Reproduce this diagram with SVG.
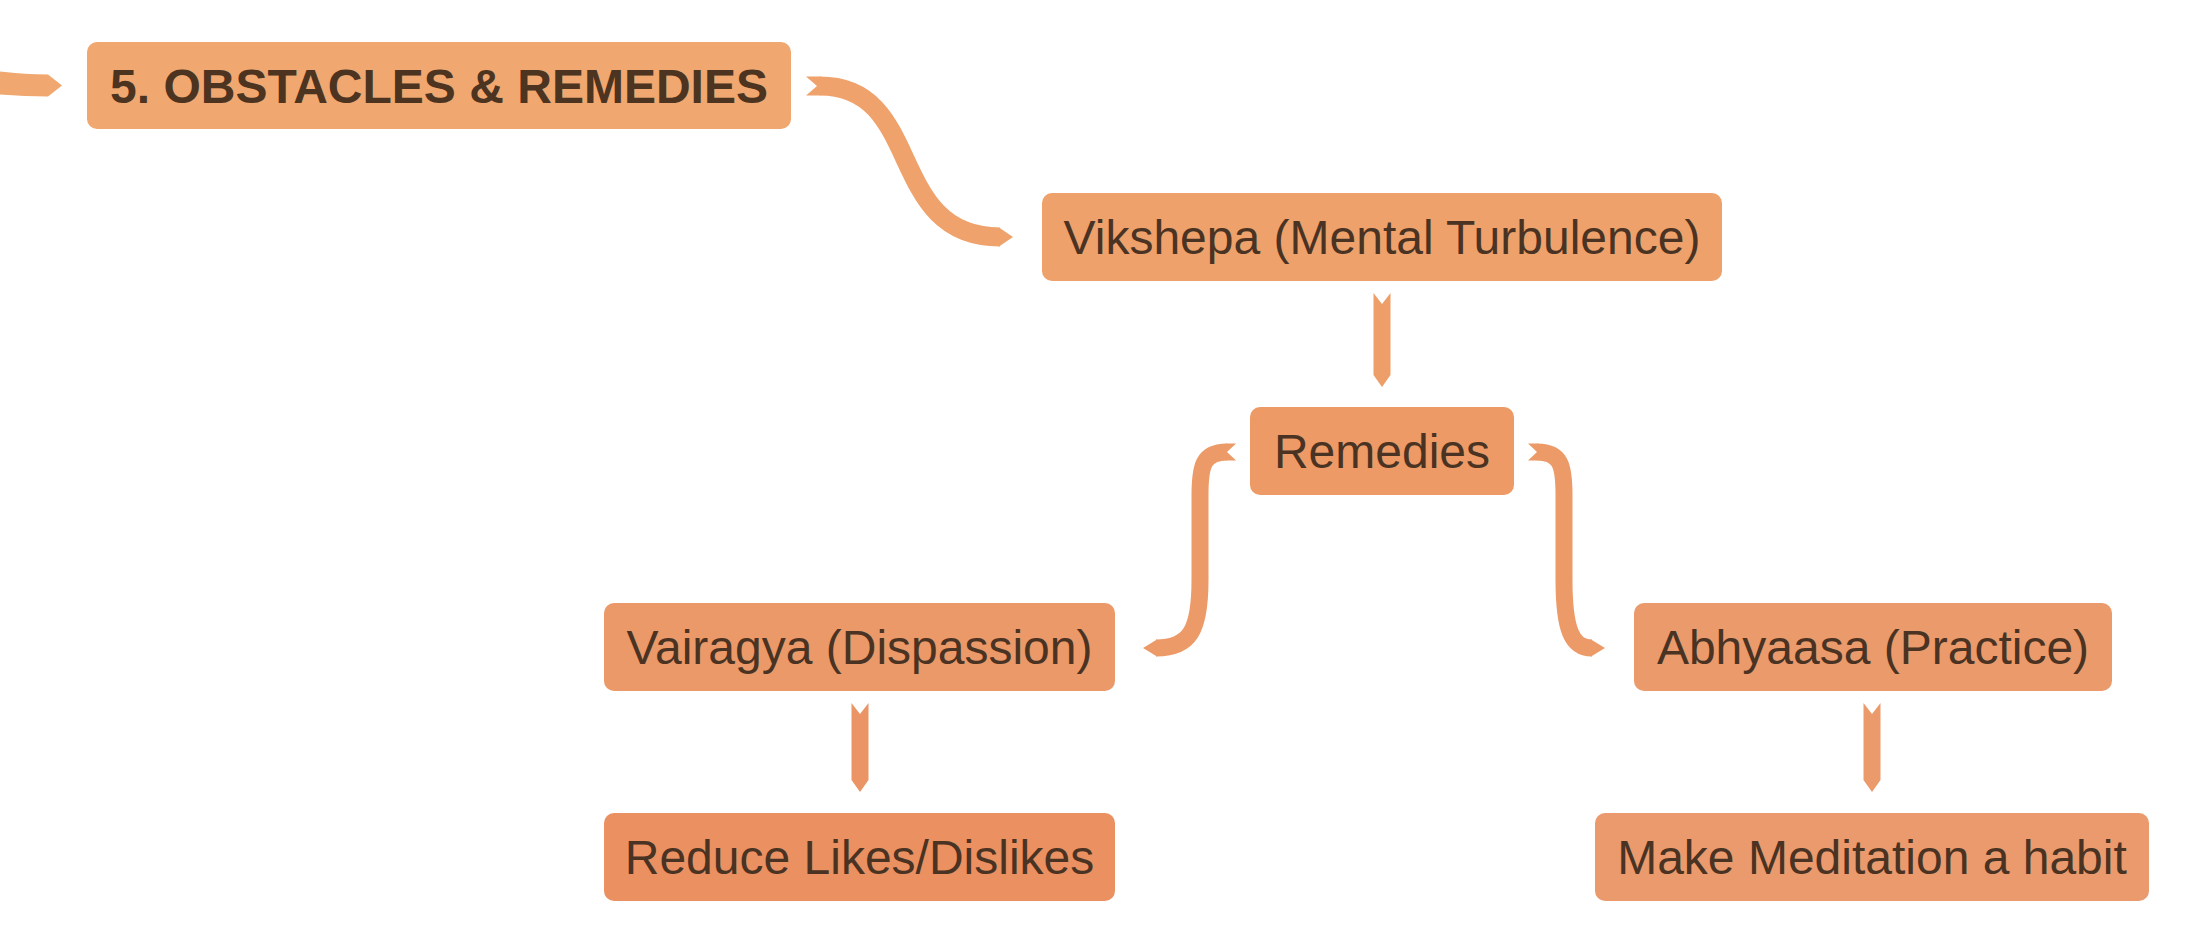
<svg xmlns="http://www.w3.org/2000/svg" width="2185" height="942" viewBox="0 0 2185 942">
  <style>
    .box { stroke: none; }
    .lbl { font-family: "Liberation Sans", Arial, sans-serif; font-size: 48px; fill: #4a3323; text-anchor: middle; }
    .title { font-weight: bold; fill: #4c3421; }
    .band { fill: none; stroke-linecap: butt; stroke-linejoin: round; }
  </style>
  <rect width="2185" height="942" fill="#ffffff"/>

  <g id="connectors">
    <!-- incoming from off-canvas parent -->
    <path id="c-in" d="M0,71.5 Q25,74.5 48,74.5 L62,85.5 L48,96.5 Q25,96.5 0,94.5 Z" fill="#f0a770"/>

    <!-- title -> Vikshepa -->
    <g id="c-title-vikshepa" fill="#efa26b">
      <polygon points="806,76.5 821,76.5 821,95.5 806,95.5 817,86"/>
      <path class="band" d="M820,86 C925,86 885,237 1000,237" stroke="#efa26b" stroke-width="19"/>
      <polygon points="999,227.5 1013,237 999,246.5"/>
    </g>

    <!-- Vikshepa -> Remedies -->
    <polygon id="c-vikshepa-remedies" points="1373.5,293 1382,304 1390.5,293 1390.5,375 1382,387 1373.5,375" fill="#ee9f69"/>

    <!-- Remedies -> Vairagya -->
    <g id="c-remedies-vairagya" fill="#ec9a67">
      <polygon points="1236,443.5 1226,443.5 1226,460.5 1236,460.5 1227,452"/>
      <path class="band" d="M1227,452 C1203,452 1200,466 1200,495 L1200,580 C1200,630 1190,648 1156,648" stroke="#ec9a67" stroke-width="17"/>
      <polygon points="1157,639.5 1143,648 1157,656.5"/>
    </g>

    <!-- Remedies -> Abhyaasa -->
    <g id="c-remedies-abhyaasa" fill="#ec9a67">
      <polygon points="1528,443.5 1538,443.5 1538,460.5 1528,460.5 1537,452"/>
      <path class="band" d="M1537,452 C1561,452 1564,466 1564,495 L1564,580 C1564,630 1572,648 1592,648" stroke="#ec9a67" stroke-width="17"/>
      <polygon points="1591,639.5 1605,648 1591,656.5"/>
    </g>

    <!-- Vairagya -> Reduce -->
    <polygon id="c-vairagya-reduce" points="851.5,703 860,714 868.5,703 868.5,780 860,792 851.5,780" fill="#eb9566"/>

    <!-- Abhyaasa -> Make Meditation -->
    <polygon id="c-abhyaasa-habit" points="1863.5,703 1872,714 1880.5,703 1880.5,780 1872,792 1863.5,780" fill="#eb9a6c"/>
  </g>

  <g id="node-title">
    <rect class="box" x="87" y="42" width="704" height="87" rx="10" fill="#f0a770"/>
    <text class="lbl title" x="439" y="102.5">5. OBSTACLES &amp; REMEDIES</text>
  </g>

  <g id="node-vikshepa">
    <rect class="box" x="1042" y="193" width="680" height="88" rx="10" fill="#eea16b"/>
    <text class="lbl" x="1382" y="254">Vikshepa (Mental Turbulence)</text>
  </g>

  <g id="node-remedies">
    <rect class="box" x="1250" y="407" width="264" height="88" rx="10" fill="#ed9a66"/>
    <text class="lbl" x="1382" y="468">Remedies</text>
  </g>

  <g id="node-vairagya">
    <rect class="box" x="604" y="603" width="511" height="88" rx="10" fill="#eb9969"/>
    <text class="lbl" x="859.5" y="664">Vairagya (Dispassion)</text>
  </g>

  <g id="node-abhyaasa">
    <rect class="box" x="1634" y="603" width="478" height="88" rx="10" fill="#eb9a6c"/>
    <text class="lbl" x="1873" y="664">Abhyaasa (Practice)</text>
  </g>

  <g id="node-reduce">
    <rect class="box" x="604" y="813" width="511" height="88" rx="10" fill="#eb9061"/>
    <text class="lbl" x="859.5" y="874">Reduce Likes/Dislikes</text>
  </g>

  <g id="node-habit">
    <rect class="box" x="1595" y="813" width="554" height="88" rx="10" fill="#eb9a6d"/>
    <text class="lbl" x="1872" y="874">Make Meditation a habit</text>
  </g>
</svg>
